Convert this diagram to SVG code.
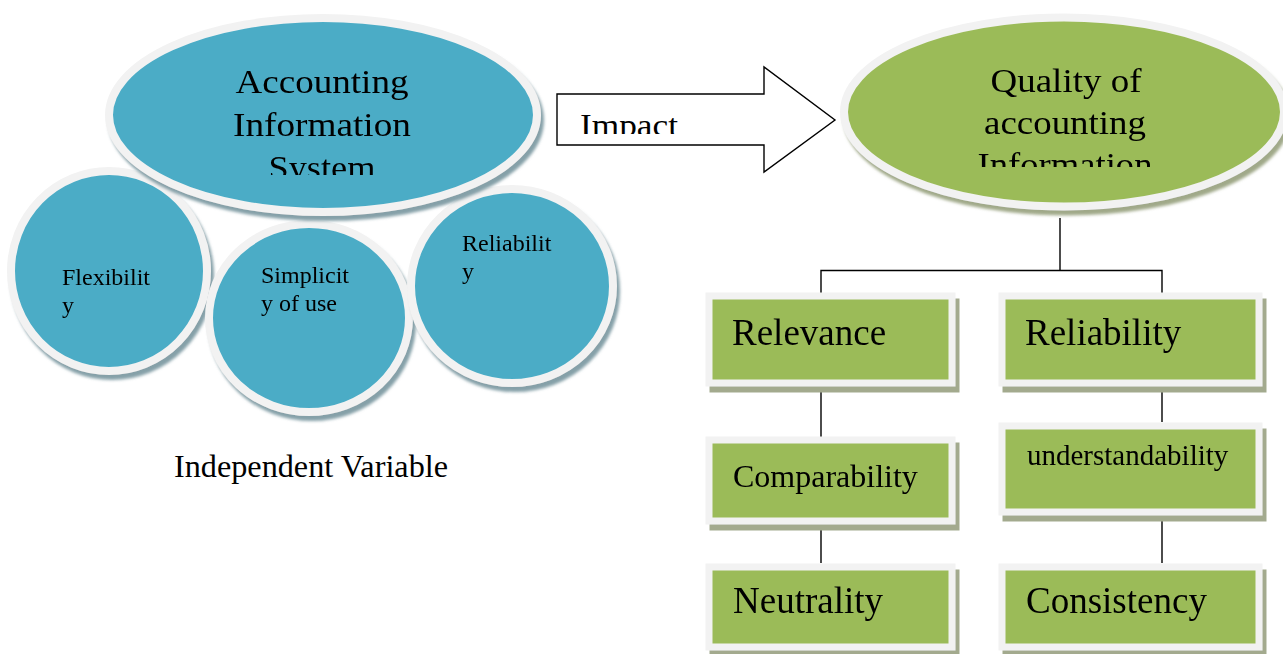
<svg xmlns="http://www.w3.org/2000/svg" width="1283" height="654" viewBox="0 0 1283 654">
  <defs>
    <filter id="shBlue" x="-10%" y="-10%" width="125%" height="130%">
      <feDropShadow dx="3" dy="5" stdDeviation="1.5" flood-color="#6f8f99" flood-opacity="0.85"/>
    </filter>
    <filter id="shGreen" x="-10%" y="-10%" width="125%" height="130%">
      <feDropShadow dx="3" dy="5" stdDeviation="1.5" flood-color="#8f9a74" flood-opacity="0.85"/>
    </filter>
    <filter id="shBox" x="-5%" y="-5%" width="115%" height="125%">
      <feDropShadow dx="4" dy="6" stdDeviation="0.6" flood-color="#a3aa8e" flood-opacity="1"/>
    </filter>
    <clipPath id="clipAis"><rect x="100" y="20" width="440" height="155"/></clipPath>
    <clipPath id="clipQai"><rect x="840" y="20" width="443" height="147"/></clipPath>
    <clipPath id="clipImpact"><rect x="560" y="96" width="200" height="38"/></clipPath>
  </defs>
  <style>
    .blue { fill: #4bacc6; stroke: #f2f2f2; stroke-width: 8; }
    .green { fill: #9bbb59; stroke: #f2f2f2; stroke-width: 8; }
    .box { fill: #9bbb59; stroke: #f2f2f2; stroke-width: 7; }
    .t { font-family: "Liberation Serif", "Times New Roman", serif; fill: #000; }
    .line { stroke: #000; stroke-width: 1.4; fill: none; }
  </style>

  <!-- independent variable: three attribute circles under the system ellipse -->
  <g id="flexibility" filter="url(#shBlue)">
    <ellipse class="blue" cx="109" cy="271" rx="98" ry="100"/>
    <text class="t" x="62" y="285" font-size="24">Flexibilit</text>
    <text class="t" x="62" y="313" font-size="24">y</text>
  </g>
  <g id="simplicity" filter="url(#shBlue)">
    <ellipse class="blue" cx="309" cy="318" rx="100" ry="94"/>
    <text class="t" x="261" y="283" font-size="24">Simplicit</text>
    <text class="t" x="261" y="311" font-size="24">y of use</text>
  </g>
  <g id="reliability-ais" filter="url(#shBlue)">
    <ellipse class="blue" cx="512" cy="286" rx="101" ry="97"/>
    <text class="t" x="462" y="251" font-size="24">Reliabilit</text>
    <text class="t" x="462" y="279" font-size="24">y</text>
  </g>
  <g id="ais" filter="url(#shBlue)">
    <ellipse class="blue" cx="323" cy="115" rx="214" ry="97"/>
    <g clip-path="url(#clipAis)" text-anchor="middle">
      <text class="t" x="322" y="93" font-size="34" textLength="173" lengthAdjust="spacingAndGlyphs">Accounting</text>
      <text class="t" x="322" y="136" font-size="34" textLength="178" lengthAdjust="spacingAndGlyphs">Information</text>
      <text class="t" x="322" y="179" font-size="34" textLength="107" lengthAdjust="spacingAndGlyphs">System</text>
    </g>
  </g>
  <g id="independent-label">
    <text class="t" x="174" y="477" font-size="31" textLength="274" lengthAdjust="spacingAndGlyphs">Independent Variable</text>
  </g>

  <!-- impact block arrow -->
  <g id="impact">
    <polygon points="557,94 764,94 764,67 835,120 764,172 764,145 557,145" fill="#fff" stroke="#000" stroke-width="1.4"/>
    <g clip-path="url(#clipImpact)">
      <text class="t" x="580" y="135.5" font-size="32" textLength="98" lengthAdjust="spacingAndGlyphs">Impact</text>
    </g>
  </g>

  <!-- dependent variable -->
  <g id="quality" filter="url(#shGreen)">
    <ellipse class="green" cx="1064" cy="112" rx="220" ry="94.5"/>
    <g clip-path="url(#clipQai)" text-anchor="middle">
      <text class="t" x="1066" y="92" font-size="34" textLength="151" lengthAdjust="spacingAndGlyphs">Quality of</text>
      <text class="t" x="1065" y="134" font-size="34" textLength="162" lengthAdjust="spacingAndGlyphs">accounting</text>
      <text class="t" x="1065" y="176" font-size="34" textLength="175" lengthAdjust="spacingAndGlyphs">Information</text>
    </g>
  </g>

  <!-- tree connectors -->
  <g id="connectors">
    <polyline class="line" points="1060,218 1060,270.5"/>
    <polyline class="line" points="821,296 821,270.5 1162,270.5 1162,296"/>
    <line class="line" x1="821" y1="387" x2="821" y2="437"/>
    <line class="line" x1="821" y1="525" x2="821" y2="563"/>
    <line class="line" x1="1162" y1="387" x2="1162" y2="422"/>
    <line class="line" x1="1162" y1="516" x2="1162" y2="563"/>
  </g>

  <!-- characteristic boxes -->
  <g id="relevance" filter="url(#shBox)">
    <rect class="box" x="709" y="296" width="243" height="87"/>
    <text class="t" x="732" y="345" font-size="37">Relevance</text>
  </g>
  <g id="reliability" filter="url(#shBox)">
    <rect class="box" x="1002" y="296" width="257" height="87"/>
    <text class="t" x="1025" y="345" font-size="37">Reliability</text>
  </g>
  <g id="comparability" filter="url(#shBox)">
    <rect class="box" x="709" y="440" width="243" height="81"/>
    <text class="t" x="733" y="487" font-size="32">Comparability</text>
  </g>
  <g id="understandability" filter="url(#shBox)">
    <rect class="box" x="1002" y="426" width="257" height="86"/>
    <text class="t" x="1027" y="465" font-size="29">understandability</text>
  </g>
  <g id="neutrality" filter="url(#shBox)">
    <rect class="box" x="709" y="567" width="243" height="80"/>
    <text class="t" x="733" y="613" font-size="37">Neutrality</text>
  </g>
  <g id="consistency" filter="url(#shBox)">
    <rect class="box" x="1002" y="567" width="257" height="80"/>
    <text class="t" x="1026" y="613" font-size="37">Consistency</text>
  </g>
</svg>
